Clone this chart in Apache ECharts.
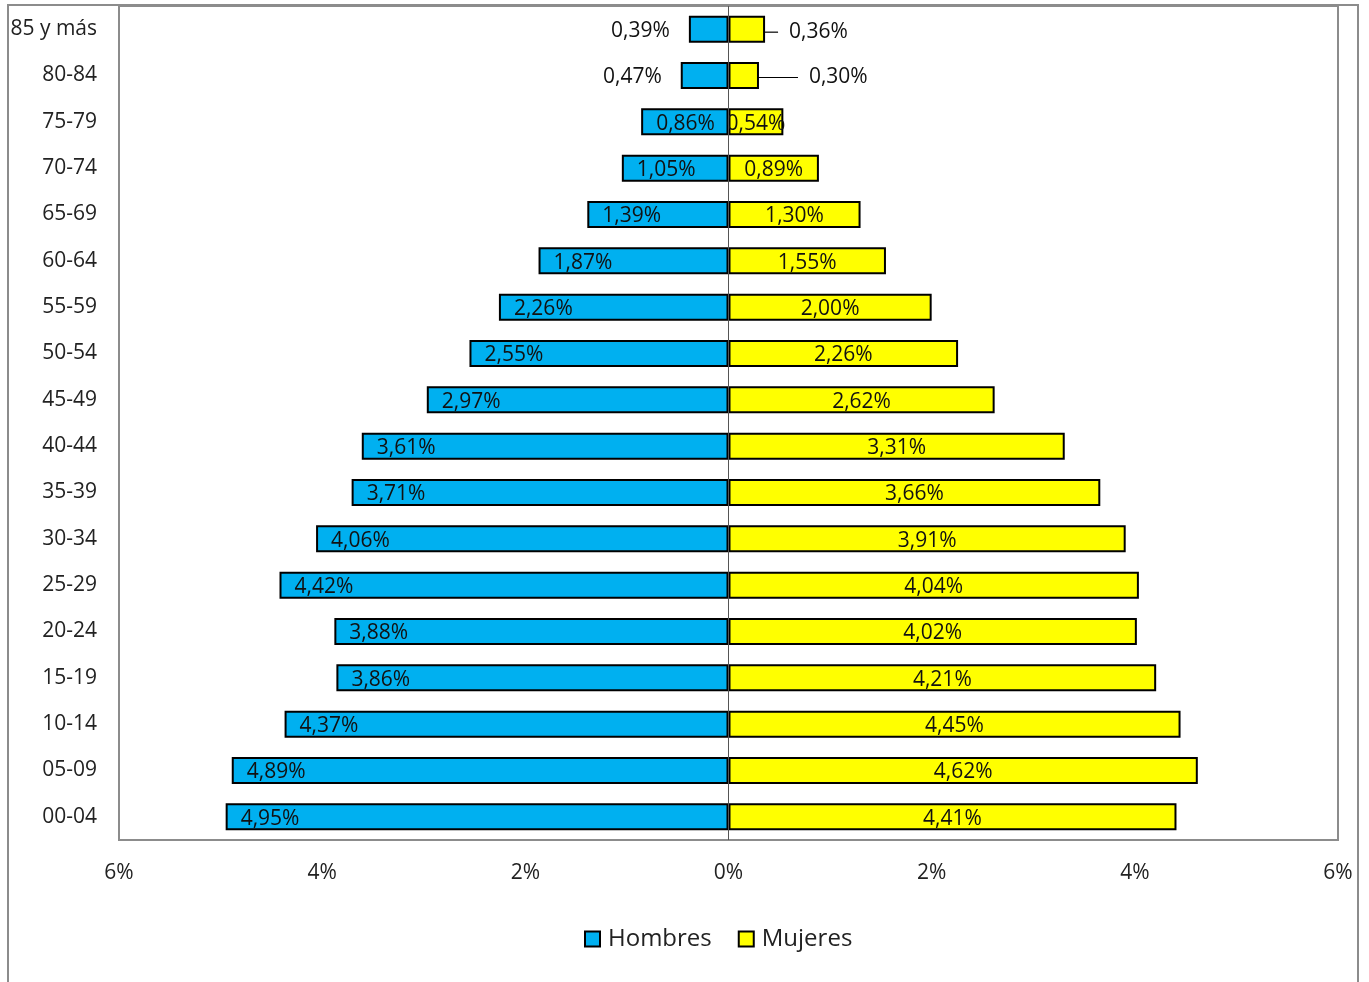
<!DOCTYPE html>
<html>
<head>
<meta charset="utf-8">
<script src="https://cdn.jsdelivr.net/npm/echarts@6/dist/echarts.min.js"></script>
<style>
  html, body { margin: 0; padding: 0; background: #fff; }
  #piramide { width: 1369px; height: 982px; }
</style>
</head>
<body>
<div id="piramide"></div>
<script>
// Piramide de poblacion por grupos de edad (de abajo hacia arriba)
var grupos = ['00-04', '05-09', '10-14', '15-19', '20-24', '25-29', '30-34', '35-39', '40-44',
    '45-49', '50-54', '55-59', '60-64', '65-69', '70-74', '75-79', '80-84', '85 y más'];
var hombres = [4.95, 4.89, 4.37, 3.86, 3.88, 4.42, 4.06, 3.71, 3.61,
    2.97, 2.55, 2.26, 1.87, 1.39, 1.05, 0.86, 0.47, 0.39];
var mujeres = [4.41, 4.62, 4.45, 4.21, 4.02, 4.04, 3.91, 3.66, 3.31,
    2.62, 2.26, 2.00, 1.55, 1.30, 0.89, 0.54, 0.30, 0.36];
var ticksX = [-6, -4, -2, 0, 2, 4, 6];

var fuente = "'Open Sans', 'Noto Sans', sans-serif";

function pct(v) {
    return Math.abs(v).toFixed(2).replace('.', ',') + '%';
}

var dom = document.getElementById('piramide');
var myChart = echarts.init(dom, null, { renderer: 'canvas' });

// hombres van a la izquierda (negativos), los pequeños con etiqueta afuera
var datosHombres = hombres.map(function (v) {
    var item = { value: -v };
    if (v < 0.5) {
        item.label = { position: 'left', distance: 19 };
    }
    return item;
});

var ultimo = grupos.length - 1;

var option = {
    animation: false,
    textStyle: { fontFamily: fuente },
    graphic: [{
        type: 'rect',
        z: -10,
        shape: { x: 8, y: 5, width: 1350, height: 1000 },
        style: { fill: 'none', stroke: '#8c8c8c', lineWidth: 2 }
    }],
    legend: {
        top: 922,
        left: 579,
        itemWidth: 15,
        itemHeight: 15,
        itemGap: 26,
        icon: 'rect',
        textStyle: { fontSize: 24, color: '#222', fontFamily: fuente, padding: [0, 0, 0, 3] },
        data: ['Hombres', 'Mujeres']
    },
    grid: {
        left: 119,
        right: 31,
        top: 6,
        bottom: 142,
        show: true,
        borderColor: '#8c8c8c',
        borderWidth: 2,
        backgroundColor: '#fff'
    },
    xAxis: {
        type: 'value',
        min: -6,
        max: 6,
        interval: 2,
        axisLine: { show: false },
        axisTick: { show: false },
        splitLine: { show: false },
        axisLabel: {
            margin: 23,
            fontSize: 21,
            color: '#222',
            fontFamily: fuente,
            formatter: function (v) {
                return ticksX.indexOf(v) >= 0 ? Math.abs(v) + '%' : '';
            }
        }
    },
    yAxis: {
        type: 'category',
        data: grupos,
        axisLine: { show: false, onZero: false },
        axisTick: { show: false },
        axisLabel: { margin: 22, fontSize: 21, color: '#222', fontFamily: fuente, padding: [6, 0, 0, 0] }
    },
    series: [
        {
            name: 'Hombres',
            type: 'bar',
            barWidth: 27,
            barGap: '-100%',
            data: datosHombres,
            itemStyle: { color: '#00B0F0', borderColor: '#000', borderWidth: 2 },
            label: {
                show: true,
                position: 'insideLeft',
                distance: 15,
                offset: [0, 2],
                fontSize: 21,
                color: '#111',
                fontFamily: fuente,
                formatter: function (p) { return pct(p.value); }
            },
            markLine: {
                silent: true,
                symbol: 'none',
                label: { show: false },
                lineStyle: { color: '#555', width: 1, type: 'solid' },
                data: [{ xAxis: 0 }]
            },
            z: 3
        },
        {
            name: 'Mujeres',
            type: 'bar',
            barWidth: 27,
            data: mujeres,
            itemStyle: { color: '#FFFF00', borderColor: '#000', borderWidth: 2 },
            label: {
                show: true,
                position: 'inside',
                fontSize: 21,
                color: '#111',
                fontFamily: fuente,
                formatter: function (p) {
                    // las etiquetas que van afuera dejan un hueco tras la linea guia
                    return (p.dataIndex >= ultimo - 1 ? '  ' : '') + pct(p.value);
                }
            },
            labelLine: {
                show: true,
                lineStyle: { color: '#000', width: 1.2 }
            },
            labelLayout: function (p) {
                if (p.dataIndex === ultimo) {
                    return { x: p.rect.x + p.rect.width + 13, y: p.rect.y + p.rect.height / 2 + 3, align: 'left', verticalAlign: 'middle' };
                }
                if (p.dataIndex === ultimo - 1) {
                    return { x: p.rect.x + p.rect.width + 39, y: p.rect.y + p.rect.height / 2 + 2, align: 'left', verticalAlign: 'middle' };
                }
                return { dy: 2 };
            },
            z: 3
        }
    ]
};

if (option && typeof option === 'object') {
    myChart.setOption(option);
}

window.addEventListener('resize', myChart.resize);
</script>
</body>
</html>
